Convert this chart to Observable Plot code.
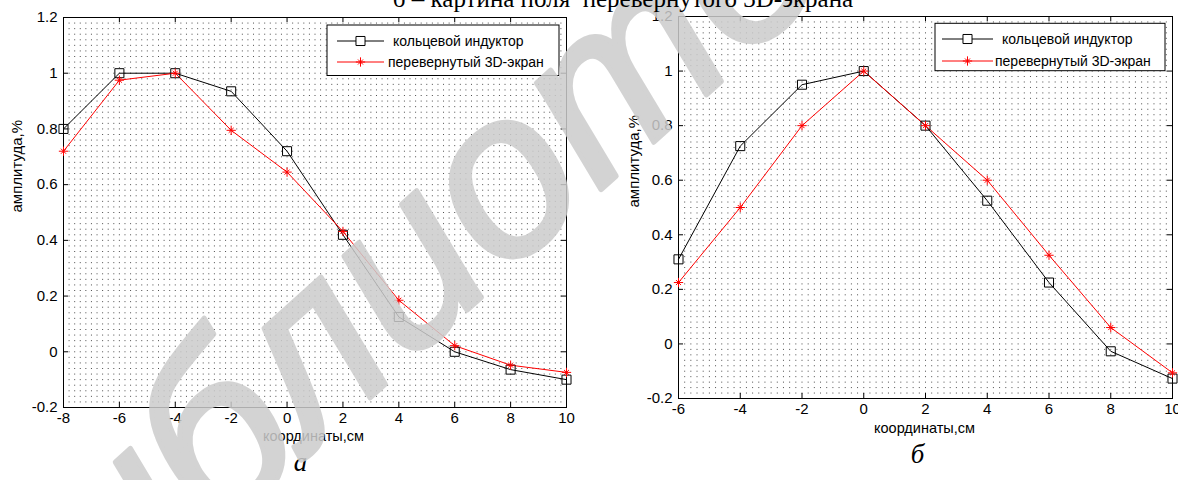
<!DOCTYPE html>
<html><head><meta charset="utf-8">
<script src="https://cdn.jsdelivr.net/npm/d3@7"></script>
<script src="https://cdn.jsdelivr.net/npm/@observablehq/plot@0.6"></script>
<style>
html,body{margin:0;padding:0;background:#fff;}
#root{position:relative;width:1178px;height:480px;overflow:hidden;background:#fff;}
#root > svg{position:absolute;top:0;}
</style></head><body><div id="root"></div>
<script>
// ---- data ----
const seriesNames = ["кольцевой индуктор", "перевернутый 3D-экран"];
const xA = [-8, -6, -4, -2, 0, 2, 4, 6, 8, 10];
const ringA = [0.80, 1.00, 1.00, 0.935, 0.72, 0.42, 0.125, 0.0, -0.064, -0.10];
const flipA = [0.72, 0.975, 1.00, 0.795, 0.645, 0.432, 0.185, 0.022, -0.048, -0.074];
const xB = [-6, -4, -2, 0, 2, 4, 6, 8, 10];
const ringB = [0.31, 0.725, 0.95, 1.00, 0.80, 0.525, 0.225, -0.027, -0.127];
const flipB = [0.225, 0.50, 0.80, 1.00, 0.80, 0.60, 0.325, 0.06, -0.106];
const xTicksA = [-8, -6, -4, -2, 0, 2, 4, 6, 8, 10];
const xTicksB = [-6, -4, -2, 0, 2, 4, 6, 8, 10];
const yTicks = [-0.2, 0, 0.2, 0.4, 0.6, 0.8, 1, 1.2];
const xLabel = "координаты,см";
const yLabel = "амплитуда,%";
const panelLetters = ["а", "б"];
const titleText = "б – картина поля  перевернутого 3D-экрана";
const watermarkText = "библиотека";

const SANS = "Liberation Sans, Arial, sans-serif";
const SERIF = "Liberation Serif, Times New Roman, serif";
const root = document.getElementById("root");

function panel(o) {
  const {xs, ring, flip, xTicks, left, width, height, m, letter, lab, leg} = o;
  const xDomain = [xTicks[0], xTicks[xTicks.length - 1]];
  const W = width - m.l - m.r, H = height - m.t - m.b;
  const cell = W / ((xDomain[1] - xDomain[0]) / 0.2);
  const rows = d3.range(-9, 60).map(i => i / 50);
  const ringData = xs.map((x, i) => ({x, y: ring[i]}));
  const flipData = xs.map((x, i) => ({x, y: flip[i]}));
  const svg = Plot.plot({
    width, height,
    marginLeft: m.l, marginRight: m.r, marginTop: m.t, marginBottom: m.b,
    x: {domain: xDomain},
    y: {domain: [-0.2, 1.2]},
    style: {fontFamily: SANS, fontSize: "15px", color: "#000", background: "transparent", overflow: "hidden"},
    marks: [
      Plot.gridY(rows, {stroke: "#000", strokeOpacity: 0.7, strokeDasharray: `1,${cell - 1}`}),
      Plot.tickX(xTicks, {x: d => d, insetTop: H - 5, stroke: "#000"}),
      Plot.tickX(xTicks, {x: d => d, insetBottom: H - 5, stroke: "#000"}),
      Plot.tickY(yTicks, {y: d => d, insetRight: W - 5, stroke: "#000"}),
      Plot.tickY(yTicks, {y: d => d, insetLeft: W - 5, stroke: "#000"}),
      Plot.frame({stroke: "#000"}),
      Plot.axisX(xTicks, {tickSize: 0, tickPadding: 5, tickFormat: d => String(d), label: null, fontSize: 15}),
      Plot.axisY(yTicks, {tickSize: 0, tickPadding: 6, tickFormat: d => String(d), label: null, fontSize: 15}),
      Plot.line(ringData, {x: "x", y: "y", stroke: "#000", strokeWidth: 1}),
      Plot.line(flipData, {x: "x", y: "y", stroke: "#ff0000", strokeWidth: 1}),
      Plot.dot(ringData, {x: "x", y: "y", symbol: "square", r: 5.1, stroke: "#000", fill: "none", strokeWidth: 1}),
      Plot.dot(flipData, {x: "x", y: "y", symbol: "plus", r: 3.1, stroke: "#ff0000", strokeWidth: 1}),
      Plot.dot(flipData, {x: "x", y: "y", symbol: "times", r: 2.4, stroke: "#ff0000", strokeWidth: 1}),
      Plot.text([xLabel], {text: d => d, frameAnchor: "bottom", dx: lab.xdx, dy: lab.xdy, fontSize: 14.5, fill: "#000"}),
      Plot.text([yLabel], {text: d => d, frameAnchor: "left", rotate: -90, dx: lab.ydx, fontSize: 15, fill: "#000"}),
      Plot.text([letter], {text: d => d, frameAnchor: "bottom", dx: lab.ldx, dy: lab.ldy, fontSize: 27, fontStyle: "italic", fontFamily: SERIF, fill: "#000"})
    ]
  });
  svg.style.left = left + "px";
  // legend (pixel layout inside the panel's svg)
  const g = d3.select(svg).append("g").attr("font-family", SANS).attr("font-size", 14).attr("text-anchor", "start");
  g.append("rect").attr("x", leg.x0).attr("y", leg.y0).attr("width", leg.x1 - leg.x0).attr("height", leg.y1 - leg.y0)
    .attr("fill", "#fff").attr("stroke", "#000");
  const rowsY = [leg.r1, leg.r2];
  const colors = ["#000", "#ff0000"];
  rowsY.forEach((ry, i) => {
    g.append("line").attr("x1", leg.l0).attr("x2", leg.l1).attr("y1", ry).attr("y2", ry).attr("stroke", colors[i]);
    const cx = (leg.l0 + leg.l1) / 2;
    if (i === 0) {
      g.append("path").attr("d", d3.symbol(d3.symbolSquare, Math.PI * 5.1 * 5.1)()).attr("transform", `translate(${cx},${ry})`)
        .attr("fill", "#fff").attr("stroke", "#000");
    } else {
      g.append("path").attr("d", d3.symbol(d3.symbolPlus, Math.PI * 3.1 * 3.1)()).attr("transform", `translate(${cx},${ry})`)
        .attr("fill", "none").attr("stroke", "#ff0000");
      g.append("path").attr("d", d3.symbol(d3.symbolTimes, Math.PI * 2.4 * 2.4)()).attr("transform", `translate(${cx},${ry})`)
        .attr("fill", "none").attr("stroke", "#ff0000");
    }
    g.append("text").attr("x", leg.t[i]).attr("y", ry).attr("dy", "0.35em").attr("fill", "#000").text(seriesNames[i]);
  });
  root.appendChild(svg);
  return svg;
}

panel({xs: xA, ring: ringA, flip: flipA, xTicks: xTicksA, left: 0, width: 590, height: 480,
  m: {l: 63, r: 24, t: 17, b: 73}, letter: panelLetters[0],
  lab: {xdx: -1.5, xdy: 33, ydx: -46, ldx: -14.5, ldy: 63},
  leg: {x0: 327, x1: 559, y0: 25, y1: 75.5, r1: 41, r2: 62, l0: 337, l1: 384, t: [393, 388]}});

panel({xs: xB, ring: ringB, flip: flipB, xTicks: xTicksB, left: 590, width: 588, height: 480,
  m: {l: 88, r: 6, t: 16, b: 82}, letter: panelLetters[1],
  lab: {xdx: -1, xdy: 34, ydx: -44, ldx: -8, ldy: 64},
  leg: {x0: 345, x1: 575, y0: 23.3, y1: 70.7, r1: 39, r2: 61, l0: 352, l1: 403, t: [412, 405]}});

// overlay: watermark + clipped caption at the top
const ov = d3.select(root).append("svg").attr("width", 1178).attr("height", 480)
  .style("position", "absolute").style("left", "0px").style("top", "0px").style("pointer-events", "none");
ov.append("text").attr("x", 478).attr("y", 218).attr("transform", "rotate(-42,478,218)")
  .attr("text-anchor", "middle").attr("dominant-baseline", "middle")
  .attr("font-family", SANS).attr("font-style", "italic").attr("font-size", 232)
  .attr("fill", "#cccccc").attr("stroke", "#cccccc").attr("stroke-width", 5).attr("stroke-linejoin", "round")
  .attr("opacity", 0.85).text(watermarkText);
ov.append("text").attr("x", 623).attr("y", 7).attr("text-anchor", "middle")
  .attr("font-family", SERIF).attr("font-size", 25).attr("fill", "#000")
  .style("white-space", "pre").text(titleText);
</script></body></html>
